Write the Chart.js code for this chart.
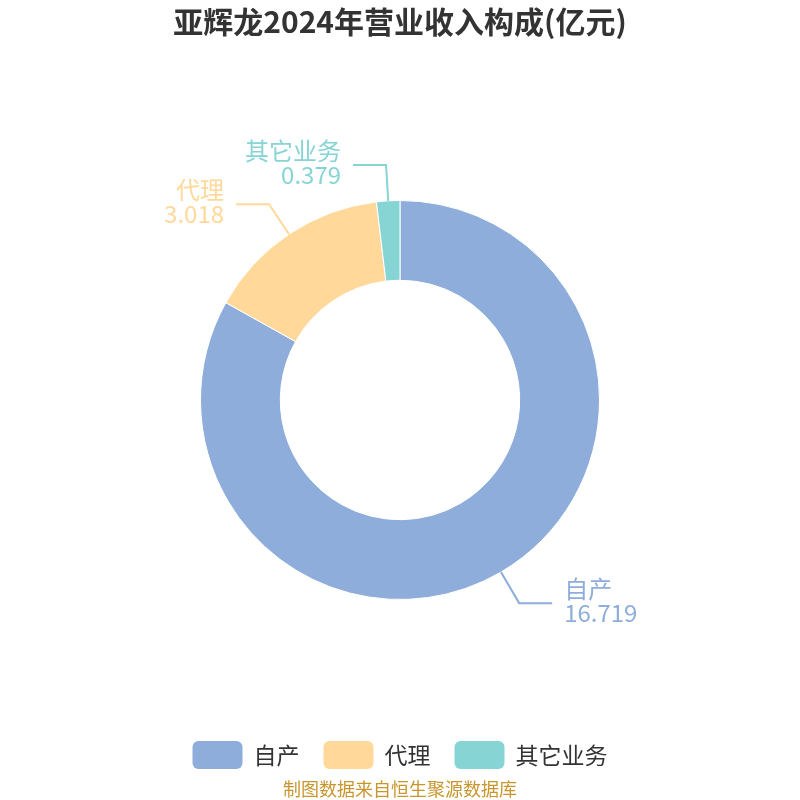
<!DOCTYPE html>
<html>
<head>
<meta charset="utf-8">
<script src="https://cdn.jsdelivr.net/npm/chart.js@4.4.1/dist/chart.umd.min.js"></script>
<style>
  html, body { margin: 0; padding: 0; background: #fff; }
  #wrap { width: 800px; height: 800px; }
</style>
</head>
<body>
<div id="wrap"><canvas id="chart" width="800" height="800"></canvas></div>
<script>
const titleText = '亚辉龙2024年营业收入构成(亿元)'
const sourceText = '制图数据来自恒生聚源数据库'
const categories = ['自产', '代理', '其它业务']
const revenue = [16.719, 3.018, 0.379]
const colors = ['#8eaddb', '#ffd89a', '#87d4d5']

const fontFamily = '"Noto Sans CJK SC", "Noto Sans", sans-serif'

// title, outside labels, legend and source line
const decorations = {
  id: 'decorations',
  afterDraw(chart) {
    const ctx = chart.ctx
    ctx.save()

    ctx.fillStyle = '#333'
    ctx.font = `bold 30px ${fontFamily}`
    ctx.textAlign = 'center'
    ctx.textBaseline = 'middle'
    ctx.fillText(titleText, 400, 22)

    const meta = chart.getDatasetMeta(0)
    meta.data.forEach((arc, i) => {
      const { x, y, startAngle, endAngle, outerRadius } = arc.getProps(['x', 'y', 'startAngle', 'endAngle', 'outerRadius'], true)
      const mid = (startAngle + endAngle) / 2
      const dx = Math.cos(mid), dy = Math.sin(mid)
      const p0 = { x: x + dx * outerRadius, y: y + dy * outerRadius }
      const p1 = { x: x + dx * (outerRadius + 36), y: y + dy * (outerRadius + 36) }
      const side = dx >= 0 ? 1 : -1
      const p2 = { x: p1.x + side * 33, y: p1.y }

      ctx.strokeStyle = colors[i]
      ctx.lineWidth = 2
      ctx.beginPath()
      ctx.moveTo(p0.x, p0.y)
      ctx.lineTo(p1.x, p1.y)
      ctx.lineTo(p2.x, p2.y)
      ctx.stroke()

      ctx.fillStyle = colors[i]
      ctx.font = `24px ${fontFamily}`
      ctx.textAlign = side > 0 ? 'left' : 'right'
      const tx = p2.x + side * 12
      ctx.fillText(categories[i], tx, p1.y - 14)
      ctx.fillText(String(revenue[i]), tx, p1.y + 10)
    })

    // legend
    ctx.font = `23px ${fontFamily}`
    const boxW = 50, boxH = 28, gapBox = 11, gapItem = 24
    const widths = categories.map(c => boxW + gapBox + ctx.measureText(c).width)
    const total = widths.reduce((a, b) => a + b, 0) + gapItem * (categories.length - 1)
    let lx = 400 - total / 2
    const ly = 755
    categories.forEach((c, i) => {
      ctx.fillStyle = colors[i]
      ctx.beginPath()
      ctx.roundRect(lx, ly - boxH / 2, boxW, boxH, 6)
      ctx.fill()
      ctx.fillStyle = '#333'
      ctx.textAlign = 'left'
      ctx.fillText(c, lx + boxW + gapBox, ly)
      lx += widths[i] + gapItem
    })

    ctx.fillStyle = '#c8962c'
    ctx.font = `18px ${fontFamily}`
    ctx.textAlign = 'center'
    ctx.fillText(sourceText, 400, 789)

    ctx.restore()
  }
}

new Chart(document.getElementById('chart'), {
  type: 'doughnut',
  data: {
    labels: categories,
    datasets: [{
      data: revenue,
      backgroundColor: colors,
      borderColor: '#fff',
      borderWidth: 1,
    }],
  },
  options: {
    responsive: false,
    animation: false,
    cutout: '60%',
    layout: { padding: { top: 200, bottom: 200, left: 200, right: 200 } },
    plugins: {
      legend: { display: false },
      title: { display: false },
      tooltip: { enabled: false },
    },
  },
  plugins: [decorations],
})
</script>
</body>
</html>
